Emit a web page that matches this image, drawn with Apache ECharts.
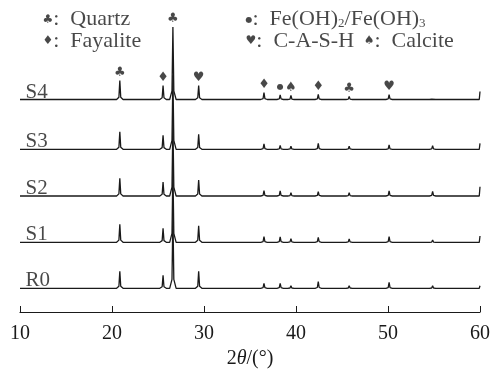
<!DOCTYPE html>
<html>
<head>
<meta charset="utf-8">
<script src="https://cdn.jsdelivr.net/npm/echarts@6/dist/echarts.min.js"></script>
<style>html,body{margin:0;padding:0;background:#fff}#c{width:494px;height:375px}</style>
</head>
<body>
<div id="c"></div>
<script>
// ---- data ----
const samples = ['R0', 'S1', 'S2', 'S3', 'S4'];
const peakPositions = [20.85, 25.55, 26.62, 29.42, 36.52, 38.28, 39.45, 42.42, 45.78, 50.12, 54.85];
const heightsR0 = [17, 13, 74, 17, 5, 5, 2.6, 6.6, 2.6, 6, 2.6];
const heightsS1 = [18, 14, 74, 16.6, 5.6, 5.3, 3.6, 5, 3.3, 5.6, 2.3];
const heightsS2 = [17.7, 14, 74, 16, 5.3, 5, 3.3, 4.3, 3.3, 5, 4.7];
const heightsS3 = [17.6, 14, 74, 15, 5.3, 4, 3, 6, 3, 4.3, 3.6];
const heightsS4 = [19, 14, 72.5, 14, 6.8, 4.5, 4, 5.2, 3, 4.8, 2];
const endIntensity = [2.6, 6.3, 9.3, 6, 8];          // value at 60°
const stackOffsets = [23.7, 69.7, 116, 162.7, 212.5]; // vertical shift of each pattern
const phaseGlyphs = ['♣', '♦', '♣', '♥', '♦', '●', '♠', '♦', '♣', '♥', ''];
const phaseNames = ['Quartz', 'Fayalite', 'Fe(OH)2/Fe(OH)3', 'C-A-S-H', 'Calcite'];
const xTicks = [10, 20, 30, 40, 50, 60];

const SERIF = '"Liberation Serif","Times New Roman",serif';
const GLYPH = '"DejaVu Sans",sans-serif';
const INK = '#1a1a1a';

const allHeights = [heightsR0, heightsS1, heightsS2, heightsS3, heightsS4];

function buildTrace(h, endH, off) {
  const pts = [[10, off]];
  peakPositions.forEach((p, i) => {
    pts.push([p - 0.35, off], [p - 0.1, off + 0.12 * h[i]], [p, off + h[i]],
             [p + 0.1, off + 0.12 * h[i]], [p + 0.35, off]);
  });
  pts.push([59.92, off], [60, off + endH]);
  return pts;
}

const lineSeries = samples.map((name, k) => ({
  name, type: 'line', data: buildTrace(allHeights[k], endIntensity[k], stackOffsets[k]),
  showSymbol: false, clip: false, lineStyle: { color: INK, width: 1.3 }, silent: true
}));

const labelSeries = {
  type: 'scatter', symbolSize: 1, itemStyle: { color: 'rgba(0,0,0,0)' }, silent: true,
  data: samples.map((s, k) => ({ value: [10.54, stackOffsets[k] - 3], name: s })),
  label: { show: true, position: 'right', distance: 0, align: 'left', verticalAlign: 'bottom',
           formatter: p => p.name, fontFamily: SERIF, fontSize: 21, color: INK }
};

const glyphRich = {
  g: { fontFamily: GLYPH, fontSize: 12, color: INK },
  b: { fontFamily: GLYPH, fontSize: 8, color: INK },
  s: { fontFamily: SERIF, fontSize: 13, color: INK, verticalAlign: 'bottom', lineHeight: 12 }
};

const markSeries = {
  type: 'scatter', symbolSize: 1, itemStyle: { color: 'rgba(0,0,0,0)' }, silent: true, clip: false,
  data: peakPositions.map((p, i) => ({ value: [p, stackOffsets[4] + heightsS4[i] + 8], name: phaseGlyphs[i] }))
        .filter(d => d.name),
  label: { show: true, position: 'inside', fontFamily: GLYPH, fontSize: 13, color: INK, rich: glyphRich,
           formatter: p => p.name === '●' ? '{b|●}' : p.name }
};

// symbol key (text), placed in the top band of the plot
const keyGlyphs = ['♣', '♦', '●', '♥', '♠'];
const keyPlace = [[12.39, 292.5], [12.39, 271], [34.46, 292.5], [34.46, 271], [47.3, 271]];
function keyText(i) {
  const g = keyGlyphs[i] === '●' ? '{b|●}' : '{g|' + keyGlyphs[i] + '}';
  const n = phaseNames[i].replace(/\)(\d)/g, '){s|$1}');
  return g + ':  ' + n;
}
const keySeries = {
  type: 'scatter', symbolSize: 1, itemStyle: { color: 'rgba(0,0,0,0)' }, silent: true, clip: false,
  data: keyPlace.map((v, i) => ({ value: v, name: keyText(i) })),
  label: { show: true, position: 'right', distance: 0, align: 'left', verticalAlign: 'middle',
           formatter: p => p.name, fontFamily: SERIF, fontSize: 22, color: INK, rich: glyphRich }
};

const chart = echarts.init(document.getElementById('c'));
chart.setOption({
  animation: false,
  backgroundColor: '#fff',
  grid: { left: 20, right: 14, top: 20, bottom: 63 },
  xAxis: {
    type: 'value', min: xTicks[0], max: xTicks[xTicks.length - 1], interval: 10,
    axisLine: { lineStyle: { color: INK, width: 1.2 } },
    axisTick: { inside: true, length: 6, lineStyle: { color: INK } },
    splitLine: { show: false },
    axisLabel: { fontFamily: SERIF, fontSize: 20, color: INK, margin: 12, showMinLabel: true, showMaxLabel: true },
    name: '2{i|θ}/(°)', nameLocation: 'middle', nameGap: 34,
    nameTextStyle: { fontFamily: SERIF, fontSize: 20, color: INK, rich: { i: { fontStyle: 'italic', fontFamily: SERIF, fontSize: 20 } } }
  },
  yAxis: { type: 'value', min: 0, max: 292, show: false },
  series: [...lineSeries, labelSeries, markSeries, keySeries]
});
</script>
</body>
</html>
